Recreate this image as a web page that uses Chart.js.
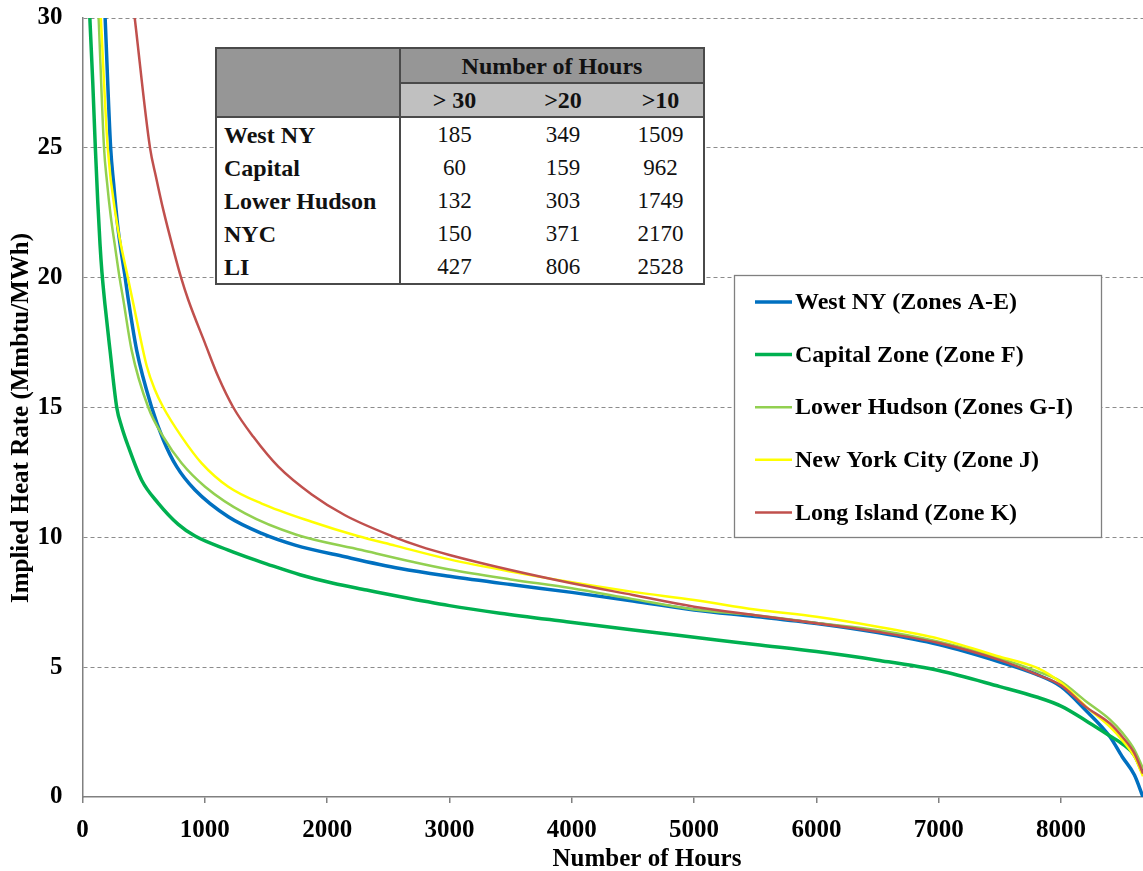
<!DOCTYPE html>
<html><head><meta charset="utf-8">
<script src="https://cdn.jsdelivr.net/npm/chart.js@4.4.1/dist/chart.umd.min.js"></script>
<style>
html,body{margin:0;padding:0;background:#fff;}
#wrap{position:relative;width:1143px;height:871px;overflow:hidden;background:#fff;}
#c{position:absolute;left:0;top:0;}
#tbl{position:absolute;left:215px;top:47px;width:488px;border-collapse:collapse;border:2px solid #4a4a4a;background:#fff;
  font-family:"Liberation Serif","Times New Roman",serif;color:#111;table-layout:fixed;}
#tbl td{padding:0;line-height:1;white-space:nowrap;}
#tbl .hdA{background:#969696;}
#tbl .hdB{background:#c0c0c0;font-weight:bold;font-size:24px;text-align:center;height:32px;border-bottom:2px solid #4a4a4a;}
#tbl .hdTitle{font-weight:bold;font-size:24px;text-align:center;height:33px;border-bottom:2px solid #4a4a4a;}
#tbl .corner{border-right:2px solid #4a4a4a;border-bottom:2px solid #4a4a4a;}
#tbl .lab{font-weight:bold;font-size:24px;text-align:left;padding-left:7px;height:33px;border-right:2px solid #4a4a4a;}
#tbl .num{font-size:23px;text-align:center;height:33px;}
</style></head>
<body>
<div id="wrap">
<canvas id="c" width="1143" height="871"></canvas>
<table id="tbl"></table>
</div>
<script>
// ---------- data ----------
const seriesLabels = ['West NY (Zones A-E)','Capital Zone (Zone F)','Lower Hudson (Zones G-I)','New York City (Zone J)','Long Island (Zone K)'];

const westHours = [185,230,255,290,349,375,443,566,661,770,920,1192,1465,1738,2146,2596,3000,3500,4000,4500,5000,5500,6000,6500,7000,7500,7800,8000,8200,8400,8500,8600,8670];
const westRate  = [30,25,23.6,21.9,20,19.14,17.2,15,13.75,12.72,11.82,10.79,10.15,9.7,9.25,8.8,8.5,8.18,7.88,7.55,7.2,6.95,6.68,6.33,5.87,5.2,4.72,4.25,3.35,2.32,1.55,0.85,0];

const capitalHours = [60,84,105,125,143,159,184,225,280,320,375,484,620,783,920,1192,1410,1509,1778,2050,2323,2590,3000,3413,3958,4503,5185,5500,6000,6500,7000,7500,7800,8000,8200,8400,8500,8600,8670];
const capitalRate  = [30,27.5,25,22.9,21.3,20.2,18.95,17.2,15,14.26,13.49,12.2,11.31,10.5,10.05,9.51,9.13,8.97,8.56,8.23,7.97,7.72,7.37,7.08,6.75,6.43,6.05,5.87,5.6,5.27,4.87,4.25,3.85,3.5,2.95,2.35,2.05,1.6,0.9];

const hudsonHours = [132,176,200,230,266,303,334,402,538,661,811,1002,1329,1749,2283,2705,3000,3500,4000,4500,5000,5500,6000,6500,7000,7500,7800,8000,8200,8400,8500,8600,8670];
const hudsonRate  = [30,25,23.7,22.4,21.2,20,19.14,17.2,15,13.87,12.85,11.95,10.92,10.1,9.51,9.05,8.76,8.38,8.04,7.62,7.22,7.0,6.7,6.42,5.98,5.34,4.85,4.45,3.7,2.98,2.48,1.82,1.1];

const nycHours = [150,206,275,371,420,470,525,590,661,811,975,1192,1465,1874,2250,2555,3000,3500,4000,4500,5000,5500,6000,6500,7000,7500,7800,8000,8200,8400,8500,8600,8670];
const nycRate  = [30,25,22.3,20,18.9,17.75,16.6,15.7,15,13.87,12.85,11.95,11.3,10.6,10.05,9.68,9.15,8.68,8.27,7.9,7.59,7.22,6.94,6.56,6.1,5.4,4.98,4.4,3.5,2.7,2.19,1.55,0.8];

const liHours = [427,552,600,661,742,806,865,1002,1110,1233,1397,1601,1874,2146,2528,2760,3000,3500,4000,4500,5000,5500,6000,6500,7000,7500,7800,8000,8200,8400,8500,8600,8670];
const liRate  = [30,25,23.9,22.6,21.1,20,19.14,17.47,16.18,15,13.87,12.72,11.65,10.85,10.05,9.65,9.32,8.74,8.23,7.78,7.33,7.0,6.69,6.36,5.93,5.27,4.72,4.3,3.48,2.83,2.32,1.68,0.9];

const seriesColors = ['#0070C0','#00B050','#92D050','#FFFF00','#C0504D'];
const seriesWidths = [3.5,3.5,2.5,2.5,2.5];
const seriesOrder  = [4,3,2,1,0];

const xTickValues = [0,1000,2000,3000,4000,5000,6000,7000,8000];
const yTickValues = [0,5,10,15,20,25,30];

const tableHeader = 'Number of Hours';
const tableThresholds = ['> 30','>20','>10'];
const tableZones = ['West NY','Capital','Lower Hudson','NYC','LI'];
const hoursAbove30 = [185,60,132,150,427];
const hoursAbove20 = [349,159,303,371,806];
const hoursAbove10 = [1509,962,1749,2170,2528];

const xTitle = 'Number of Hours';
const yTitle = 'Implied Heat Rate (Mmbtu/MWh)';
const xMax = 8670, yMax = 30;

// ---------- table ----------
(function buildTable(){
  const t = document.getElementById('tbl');
  const cg = document.createElement('colgroup');
  [184,108,110,86].forEach(w=>{const c=document.createElement('col');c.style.width=w+'px';cg.appendChild(c);});
  t.appendChild(cg);
  let r = t.insertRow();
  let c = r.insertCell(); c.rowSpan = 2; c.className='hdA corner';
  c = r.insertCell(); c.colSpan = 3; c.className='hdA hdTitle'; c.textContent = tableHeader;
  r = t.insertRow();
  tableThresholds.forEach(s=>{const d=r.insertCell(); d.className='hdB'; d.textContent=s;});
  tableZones.forEach((z,i)=>{
    const row = t.insertRow();
    const l = row.insertCell(); l.className='lab'; l.textContent=z;
    [hoursAbove30,hoursAbove20,hoursAbove10].forEach(arr=>{const d=row.insertCell(); d.className='num'; d.textContent=String(arr[i]);});
  });
})();

// ---------- chart ----------
const FONT = '"Liberation Serif","Times New Roman",serif';
function pts(h,v){return h.map((x,i)=>({x:x,y:v[i]}));}
const allHours = [westHours,capitalHours,hudsonHours,nycHours,liHours];
const allRates = [westRate,capitalRate,hudsonRate,nycRate,liRate];

const datasets = seriesLabels.map((lab,i)=>({
  label: lab,
  data: pts(allHours[i], allRates[i]),
  borderColor: seriesColors[i],
  backgroundColor: seriesColors[i],
  borderWidth: seriesWidths[i],
  pointRadius: 0,
  fill: false,
  cubicInterpolationMode: 'monotone',
  order: seriesOrder[i]
}));

const overlayPlugin = {
  id: 'overlay',
  afterDraw(chart){
    const ctx = chart.ctx;
    ctx.save();
    ctx.fillStyle = '#000';
    ctx.font = 'bold 25px ' + FONT;
    ctx.textAlign = 'center';
    ctx.textBaseline = 'middle';
    ctx.fillText(xTitle, 647, 860);
    ctx.save();
    ctx.translate(22, 418);
    ctx.rotate(-Math.PI/2);
    ctx.fillText(yTitle, 0, 0);
    ctx.restore();
    // legend box
    const lx = 734.5, ly = 275.5, lw = 367, lh = 262;
    ctx.fillStyle = '#fff';
    ctx.fillRect(lx, ly, lw, lh);
    ctx.strokeStyle = '#808080';
    ctx.lineWidth = 1.3;
    ctx.strokeRect(lx, ly, lw, lh);
    chart.data.datasets.forEach((ds,i)=>{
      const cy = 302 + i*52.6;
      ctx.strokeStyle = ds.borderColor;
      ctx.lineWidth = ds.borderWidth;
      ctx.beginPath(); ctx.moveTo(755, cy); ctx.lineTo(792, cy); ctx.stroke();
      ctx.fillStyle = '#000';
      ctx.font = 'bold 24px ' + FONT;
      ctx.textAlign = 'left';
      ctx.textBaseline = 'middle';
      ctx.fillText(ds.label, 795, cy + 1);
    });
    ctx.restore();
  }
};

new Chart(document.getElementById('c'), {
  type: 'line',
  data: { datasets },
  options: {
    responsive: false,
    animation: false,
    layout: { padding: { top: 18, right: 0, left: 0, bottom: 0 } },
    plugins: { legend: { display: false }, tooltip: { enabled: false }, title: { display: false } },
    scales: {
      x: {
        type: 'linear',
        min: 0, max: xMax,
        afterFit(s){ s.height = 74; },
        afterBuildTicks(s){ s.ticks = xTickValues.map(v => ({ value: v })); },
        ticks: { autoSkip: false, color: '#000', padding: 13, maxRotation: 0, minRotation: 0,
                 font: { family: FONT, size: 25, weight: 'bold' },
                 callback: v => String(v) },
        grid: { drawOnChartArea: false, drawTicks: true, tickLength: 6, color: '#808080', lineWidth: 1.5 },
        border: { display: true, color: '#808080', width: 1.5 },
        title: { display: false }
      },
      y: {
        min: 0, max: yMax,
        afterFit(s){ s.width = 82.5; },
        afterBuildTicks(s){ s.ticks = yTickValues.map(v => ({ value: v })); },
        ticks: { autoSkip: false, color: '#000', padding: 0,
                 font: { family: FONT, size: 25, weight: 'bold' } },
        grid: { drawTicks: true, tickLength: 20, tickColor: 'rgba(0,0,0,0)', lineWidth: 1,
                color: ctx => ctx.tick && ctx.tick.value === 0 ? 'rgba(0,0,0,0)' : '#8c8c8c' },
        border: { display: true, color: '#808080', width: 1.5, dash: [4,3] },
        title: { display: false }
      }
    }
  },
  plugins: [overlayPlugin]
});
</script>
</body></html>
